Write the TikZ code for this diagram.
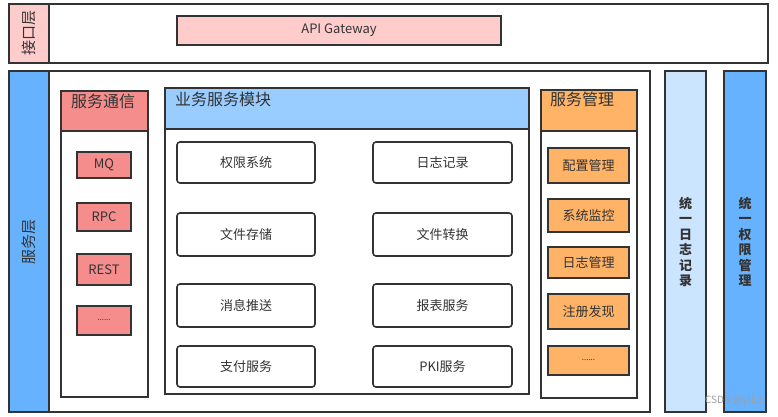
\documentclass[tikz,border=0pt]{standalone}
\usepackage{fontspec}
\usepackage{graphicx}
\setmainfont{Noto Sans CJK SC}
\definecolor{linec}{HTML}{333333}
\definecolor{textc}{HTML}{333333}
\definecolor{pinkl}{HTML}{FFCCCC}
\definecolor{salmon}{HTML}{F58D8D}
\definecolor{orangec}{HTML}{FFB366}
\definecolor{bluehd}{HTML}{99CCFF}
\definecolor{bluest}{HTML}{66B2FF}
\definecolor{bluelt}{HTML}{CCE5FF}
\newcommand\rbox[7]{\node[#6,minimum width={#4pt-#2pt},minimum height={#5pt-#3pt}] (#1) at ({(#2+#4)/2},{(#3+#5)/2}) {#7};}
\begin{document}
\begin{tikzpicture}[x=1pt,y=-1pt,
  box/.style={draw=linec,line width=1.6pt,inner sep=0pt,outer sep=0pt,text=textc,font=\fontsize{13}{15}\selectfont},
  item/.style={box,fill=white,rounded corners=3pt},
  hdtext/.style={text=textc,inner sep=0pt,font=\fontsize{16}{18}\selectfont},
  vtext/.style={text=textc,inner sep=0pt,align=center,font=\fontsize{13}{15.5}\selectfont\bfseries}]
\useasboundingbox (0,0) rectangle (778,417);
\fill[white] (0,0) rectangle (778,417);
% interface layer
\rbox{toplayer}{9}{4}{768}{63}{box,fill=white}{}
\rbox{toplabel}{9}{4}{49}{63}{box,fill=pinkl,font=\fontsize{15}{17}\selectfont}{\rotatebox{90}{接口层}}
\rbox{apigw}{177}{16}{501}{45}{box,fill=pinkl}{API Gateway}
% service layer
\rbox{svclayer}{9}{71}{650}{412}{box,fill=white}{}
\rbox{svclabel}{9}{71}{49}{412}{box,fill=bluest,font=\fontsize{15}{17}\selectfont}{\rotatebox{90}{服务层}}
% communication column
\rbox{comm}{61}{91}{148}{397}{box,fill=white}{}
\rbox{commhd}{61}{91}{148}{131}{box,fill=salmon}{}
\node[hdtext,anchor=north] (commt) at (103,94) {服务通信};
\rbox{mq}{77}{152}{131}{178}{box,fill=salmon}{MQ}
\rbox{rpc}{77}{203}{131}{231}{box,fill=salmon}{RPC}
\rbox{rest}{77}{254}{131}{285}{box,fill=salmon}{REST}
\rbox{cdots}{77}{306}{131}{335}{box,fill=salmon,font=\fontsize{8}{10}\selectfont}{......}
% business module
\rbox{biz}{165}{88}{529}{394}{box,fill=white}{}
\rbox{bizhd}{165}{88}{529}{129}{box,fill=bluehd}{}
\node[hdtext,anchor=north west] (bizt) at (175,92) {业务服务模块};
\rbox{b1}{177}{142}{315}{183}{item}{权限系统}
\rbox{b2}{373}{142}{512}{183}{item}{日志记录}
\rbox{b3}{177}{213}{315}{256}{item}{文件存储}
\rbox{b4}{373}{213}{512}{256}{item}{文件转换}
\rbox{b5}{177}{284}{315}{327}{item}{消息推送}
\rbox{b6}{373}{284}{512}{327}{item}{报表服务}
\rbox{b7}{177}{346}{315}{387}{item}{支付服务}
\rbox{b8}{373}{346}{512}{387}{item}{PKI服务}
% management column
\rbox{mgmt}{541}{90}{637}{398}{box,fill=white}{}
\rbox{mgmthd}{541}{90}{637}{131}{box,fill=orangec}{}
\node[hdtext,anchor=north] (mgmtt) at (582,92) {服务管理};
\rbox{m1}{548}{148}{629}{183}{box,fill=orangec}{配置管理}
\rbox{m2}{548}{199}{629}{232}{box,fill=orangec}{系统监控}
\rbox{m3}{548}{247}{629}{278}{box,fill=orangec}{日志管理}
\rbox{m4}{548}{294}{629}{329}{box,fill=orangec}{注册发现}
\rbox{m5}{548}{346}{629}{375}{box,fill=orangec,font=\fontsize{8}{10}\selectfont}{......}
% unified columns
\rbox{logcol}{665}{71}{706}{412}{box,fill=bluelt}{}
\node[vtext] (logt) at (685.5,242) {统\\一\\日\\志\\记\\录};
\rbox{permcol}{724}{71}{766}{412}{box,fill=bluest}{}
\node[vtext] (permt) at (745,242) {统\\一\\权\\限\\管\\理};
\node[text=gray!75,inner sep=0pt,font=\fontsize{10}{12}\selectfont,anchor=east] (wm) at (764,401) {CSDN @yllcc};
\end{tikzpicture}
\end{document}
